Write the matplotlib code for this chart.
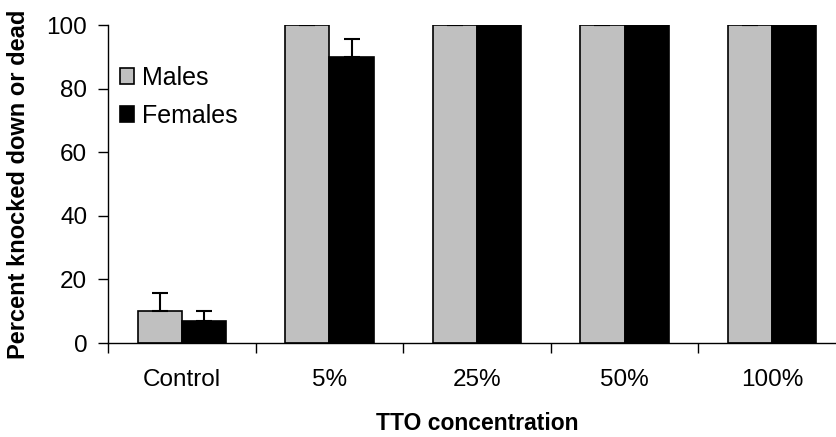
import matplotlib.pyplot as plt
import numpy as np

plt.rcParams['font.family'] = ['Liberation Sans', 'DejaVu Sans']

groups = ["Control", "5%", "25%", "50%", "100%"]
males = [10, 100, 100, 100, 100]
males_err = [5.6, 0, 0, 0, 0]
females = [7, 90, 100, 100, 100]
females_err = [3, 5.6, 0, 0, 0]

fig = plt.figure(figsize=(8.37, 4.37), dpi=100)
# axis runs past the right edge of the figure
ax = fig.add_axes([108 / 837, 94 / 437, 738 / 837, 318 / 437])

x = np.arange(len(groups))
w = 0.3
ax.bar(x - w / 2, males, w, color="#c0c0c0", edgecolor="black", linewidth=1.2,
       label="Males", yerr=[np.zeros(len(x)), males_err], capsize=5.5,
       error_kw=dict(elinewidth=1.5, capthick=1.5))
ax.bar(x + w / 2, females, w, color="black", edgecolor="black", linewidth=1.2,
       label="Females", yerr=[np.zeros(len(x)), females_err], capsize=5.5,
       error_kw=dict(elinewidth=1.5, capthick=1.5))

ax.set_xlim(-0.5, 4.5)
ax.set_ylim(0, 100)
ax.set_yticks([0, 20, 40, 60, 80, 100])

# tick marks between groups, labels at the group centres
ax.set_xticks(np.arange(-0.5, 5, 1))
ax.set_xticklabels([])
ax.set_xticks(x, minor=True)
ax.set_xticklabels(groups, minor=True)
ax.tick_params(axis="x", which="minor", length=0, pad=19, labelsize=17.5)
ax.tick_params(axis="x", which="major", length=7, width=1)
ax.tick_params(axis="y", length=7, width=1, labelsize=17.5, pad=8)

for s in ["top", "right"]:
    ax.spines[s].set_visible(False)
ax.spines["left"].set_linewidth(1)
ax.spines["bottom"].set_linewidth(1)

ax.set_xlabel("TTO concentration", fontsize=16.5, fontweight="bold", labelpad=15)
ax.set_ylabel("Percent knocked down or dead", fontsize=17, fontweight="bold", labelpad=12)

ax.legend(loc="upper left", bbox_to_anchor=(110 / 837, 1 - 56 / 437),
          bbox_transform=fig.transFigure, frameon=False, fontsize=18,
          handlelength=0.55, handleheight=0.6, handletextpad=0.35,
          labelspacing=0.55, borderaxespad=0)

fig.savefig("out.png", dpi=100)
